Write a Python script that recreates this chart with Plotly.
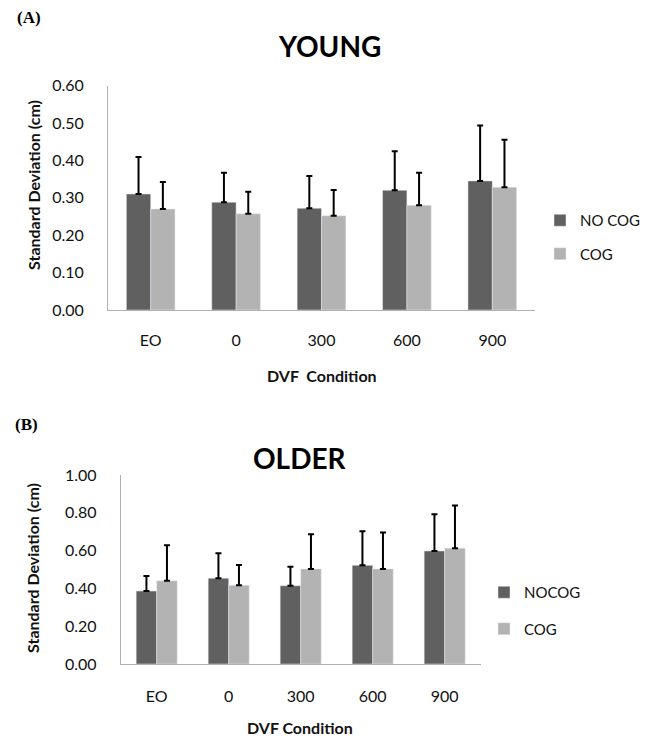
import plotly.graph_objects as go

# ---------------- data ----------------
categories = ["EO", "0", "300", "600", "900"]

young_nocog = [0.310, 0.288, 0.272, 0.320, 0.345]
young_nocog_sd = [0.099, 0.079, 0.086, 0.104, 0.148]
young_cog = [0.270, 0.257, 0.252, 0.280, 0.328]
young_cog_sd = [0.072, 0.059, 0.069, 0.087, 0.127]

older_nocog = [0.386, 0.454, 0.414, 0.522, 0.598]
older_nocog_sd = [0.080, 0.132, 0.101, 0.181, 0.194]
older_cog = [0.440, 0.417, 0.503, 0.503, 0.613]
older_cog_sd = [0.188, 0.107, 0.184, 0.193, 0.225]

young_ticks = [0.0, 0.1, 0.2, 0.3, 0.4, 0.5, 0.6]
older_ticks = [0.0, 0.2, 0.4, 0.6, 0.8, 1.0]

DARK = "#606060"
LIGHT = "#b3b3b3"
TXT = "#111111"
FONT = "Lato"

# page body has an 8px default margin; size the figure so the page fits the window
BODY = 8
W, H = 654 - 2 * BODY, 744 - 2 * BODY


def px_x(x):
    return (x - BODY) / W


def px_y(y):
    return (H - (y - BODY)) / H


def err(vals):
    return dict(type="data", array=vals, symmetric=False, arrayminus=[0] * len(vals),
                color="black", thickness=2, width=3)


fig = go.Figure()
fig.add_trace(go.Bar(x=categories, y=young_nocog, name="NO COG", marker_color=DARK,
                     error_y=err(young_nocog_sd), xaxis="x", yaxis="y",
                     legend="legend", legendgroup="a"))
fig.add_trace(go.Bar(x=categories, y=young_cog, name="COG", marker_color=LIGHT,
                     error_y=err(young_cog_sd), xaxis="x", yaxis="y",
                     legend="legend", legendgroup="b"))
fig.add_trace(go.Bar(x=categories, y=older_nocog, name="NOCOG", marker_color=DARK,
                     error_y=err(older_nocog_sd), xaxis="x2", yaxis="y2",
                     legend="legend2", legendgroup="c"))
fig.add_trace(go.Bar(x=categories, y=older_cog, name="COG", marker_color=LIGHT,
                     error_y=err(older_cog_sd), xaxis="x2", yaxis="y2",
                     legend="legend2", legendgroup="d"))

axis_common = dict(showgrid=False, zeroline=False, showline=True, linecolor="#b0b0b0",
                   linewidth=1, tickfont=dict(family=FONT, size=16, color=TXT),
                   fixedrange=True, automargin=False)

fig.update_layout(
    width=W, height=H,
    margin=dict(l=0, r=0, t=0, b=0, pad=0, autoexpand=False),
    paper_bgcolor="white", plot_bgcolor="white",
    barmode="group", bargap=0.43, bargroupgap=0,
    font=dict(family=FONT, color=TXT),
    xaxis=dict(domain=[px_x(108), px_x(535)], anchor="y", ticks="", ticklabelstandoff=16,
               **axis_common),
    yaxis=dict(domain=[px_y(310), px_y(85.5)], anchor="x", range=[0, 0.6],
               tickvals=young_ticks, tickformat=".2f", ticks="", ticklabelstandoff=20,
               **axis_common),
    xaxis2=dict(domain=[px_x(120.7), px_x(480.7)], anchor="y2", ticks="", ticklabelstandoff=18,
                **axis_common),
    yaxis2=dict(domain=[px_y(664), px_y(475)], anchor="x2", range=[0, 1.0],
                tickvals=older_ticks, tickformat=".2f", ticks="", ticklabelstandoff=20,
                **axis_common),
    legend=dict(x=px_x(540), y=px_y(237), xanchor="left", yanchor="middle",
                font=dict(family=FONT, size=15, color=TXT), tracegroupgap=11,
                bgcolor="rgba(0,0,0,0)"),
    legend2=dict(x=px_x(484), y=px_y(610.5), xanchor="left", yanchor="middle",
                 font=dict(family=FONT, size=15, color=TXT), tracegroupgap=14,
                 bgcolor="rgba(0,0,0,0)"),
)

annotations = [
    dict(text="<b>(A)</b>", x=px_x(15), y=px_y(18), xanchor="left", yanchor="middle",
         font=dict(family="Liberation Serif", size=17, color="black")),
    dict(text="<b>YOUNG</b>", x=px_x(329), y=px_y(46), xanchor="center", yanchor="middle",
         font=dict(family=FONT, size=28, color="black")),
    dict(text="<b>Standard Deviation (cm)</b>", x=px_x(33), y=px_y(185), textangle=-90,
         xanchor="center", yanchor="middle", font=dict(family=FONT, size=16, color=TXT)),
    dict(text="<b>DVF  Condition</b>", x=px_x(322), y=px_y(375), xanchor="center",
         yanchor="middle", font=dict(family=FONT, size=16, color=TXT)),
    dict(text="<b>(B)</b>", x=px_x(13), y=px_y(424), xanchor="left", yanchor="middle",
         font=dict(family="Liberation Serif", size=17, color="black")),
    dict(text="<b>OLDER</b>", x=px_x(300), y=px_y(458), xanchor="center", yanchor="middle",
         font=dict(family=FONT, size=28, color="black")),
    dict(text="<b>Standard Deviation (cm)</b>", x=px_x(32), y=px_y(568), textangle=-90,
         xanchor="center", yanchor="middle", font=dict(family=FONT, size=16, color=TXT)),
    dict(text="<b>DVF Condition</b>", x=px_x(300), y=px_y(727), xanchor="center",
         yanchor="middle", font=dict(family=FONT, size=16, color=TXT)),
]
for a in annotations:
    a.update(xref="paper", yref="paper", showarrow=False)
fig.update_layout(annotations=annotations)

fig.write_html("out.html")
